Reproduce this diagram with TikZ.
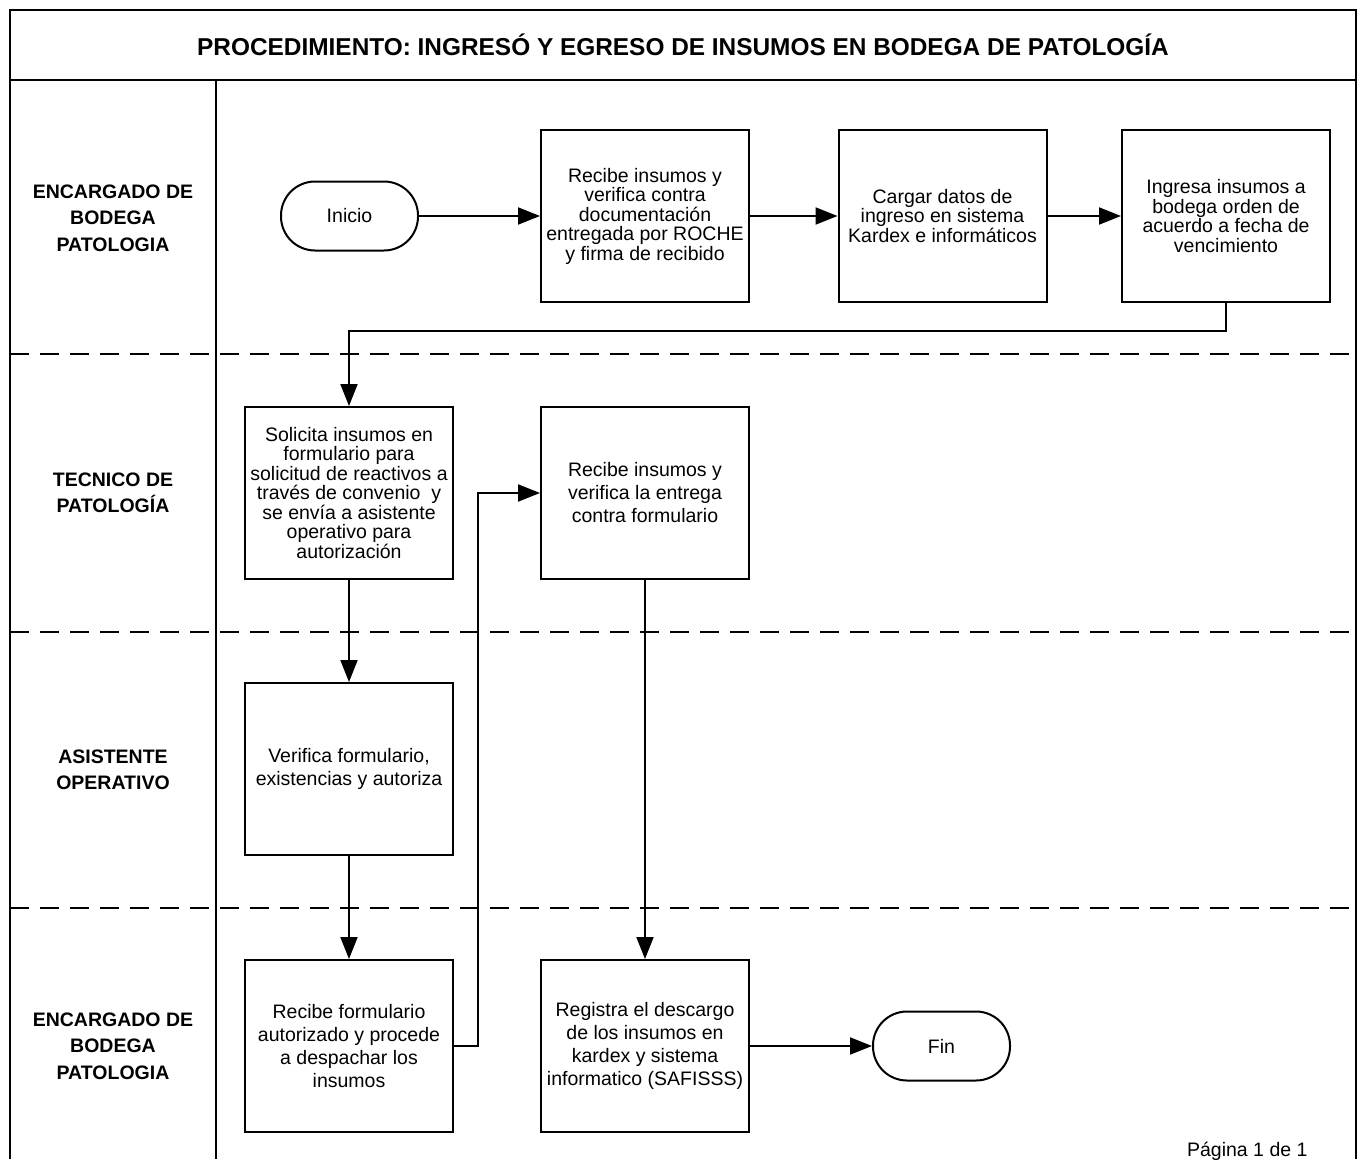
\documentclass[tikz,border=0pt]{standalone}
\usepackage{fontspec}
\setmainfont{Liberation Sans}
\usetikzlibrary{arrows.meta}

\begin{document}
\begin{tikzpicture}[x=1pt,y=-1pt,
  every node/.style={font=\fontsize{19.5pt}{19.5pt}\selectfont},
  frame/.style={line width=2pt},
  lanesep/.style={line width=2pt, dash pattern=on 19pt off 11pt},
  task/.style={draw, line width=2pt, minimum width=208pt, minimum height=172pt,
               align=center, inner sep=2pt},
  wide/.style={font=\fontsize{19.5pt}{23pt}\selectfont},
  term/.style={draw, line width=2pt, minimum width=137pt, minimum height=69pt,
               rounded corners=34pt},
  lane/.style={align=center, font=\bfseries\fontsize{19.5pt}{26.5pt}\selectfont},
  flow/.style={line width=2pt, -{Triangle[length=22pt,width=17pt]}}
]
\useasboundingbox (0,0) rectangle (1364,1159);

% outer frame, title band and lane column
\draw[frame] (10,1159) -- (10,10) -- (1356,10) -- (1356,1159);
\draw[frame] (10,80) -- (1356,80);
\draw[frame] (216,80) -- (216,1159);

% lane separators
\draw[lanesep] (10,354) -- (1356,354);
\draw[lanesep] (10,632) -- (1356,632);
\draw[lanesep] (10,908) -- (1356,908);

% title
\node[font=\bfseries\fontsize{24.4pt}{24.4pt}\selectfont] (title) at (683,45)
  {PROCEDIMIENTO: INGRESÓ Y EGRESO DE INSUMOS EN BODEGA DE PATOLOGÍA};

% lane labels
\node[lane] (lane1) at (113,218) {ENCARGADO DE\\BODEGA\\PATOLOGIA};
\node[lane] (lane2) at (113,493) {TECNICO DE\\PATOLOGÍA};
\node[lane] (lane3) at (113,770) {ASISTENTE\\OPERATIVO};
\node[lane] (lane4) at (113,1046) {ENCARGADO DE\\BODEGA\\PATOLOGIA};

% process steps
\node[term] (inicio) at (349.5,216) {Inicio};
\node[task] (b1) at (645,216) {Recibe insumos y\\verifica contra\\documentación\\entregada por ROCHE\\y firma de recibido};
\node[task] (b2) at (942.5,216) {Cargar datos de\\ingreso en sistema\\Kardex e informáticos};
\node[task] (b3) at (1226,216) {Ingresa insumos a\\bodega orden de\\acuerdo a fecha de\\vencimiento};
\node[task] (b4) at (349,493) {Solicita insumos en\\formulario para\\solicitud de reactivos a\\través de convenio\ \ y\\se envía a asistente\\operativo para\\autorización};
\node[task, wide] (b5) at (645,493) {Recibe insumos y\\verifica la entrega\\contra formulario};
\node[task, wide] (b6) at (349,769) {Verifica formulario,\\existencias y autoriza};
\node[task, wide] (b7) at (349,1046) {Recibe formulario\\autorizado y procede\\a despachar los\\insumos};
\node[task, wide] (b8) at (645,1046) {Registra el descargo\\de los insumos en\\kardex y sistema\\informatico (SAFISSS)};
\node[term] (fin) at (941.5,1046) {Fin};

\node[anchor=east] (pagina) at (1311,1151) {Página 1 de 1};

% connectors
\draw[flow] (inicio) -- (b1);
\draw[flow] (b1) -- (b2);
\draw[flow] (b2) -- (b3);
\draw[flow] (b3.south) -- ++(0,28) -| (b4.north);
\draw[flow] (b4) -- (b6);
\draw[flow] (b6) -- (b7);
\draw[flow] (b7.east) -- ++(24,0) |- (b5.west);
\draw[flow] (b5) -- (b8);
\draw[flow] (b8) -- (fin);
\end{tikzpicture}
\end{document}
